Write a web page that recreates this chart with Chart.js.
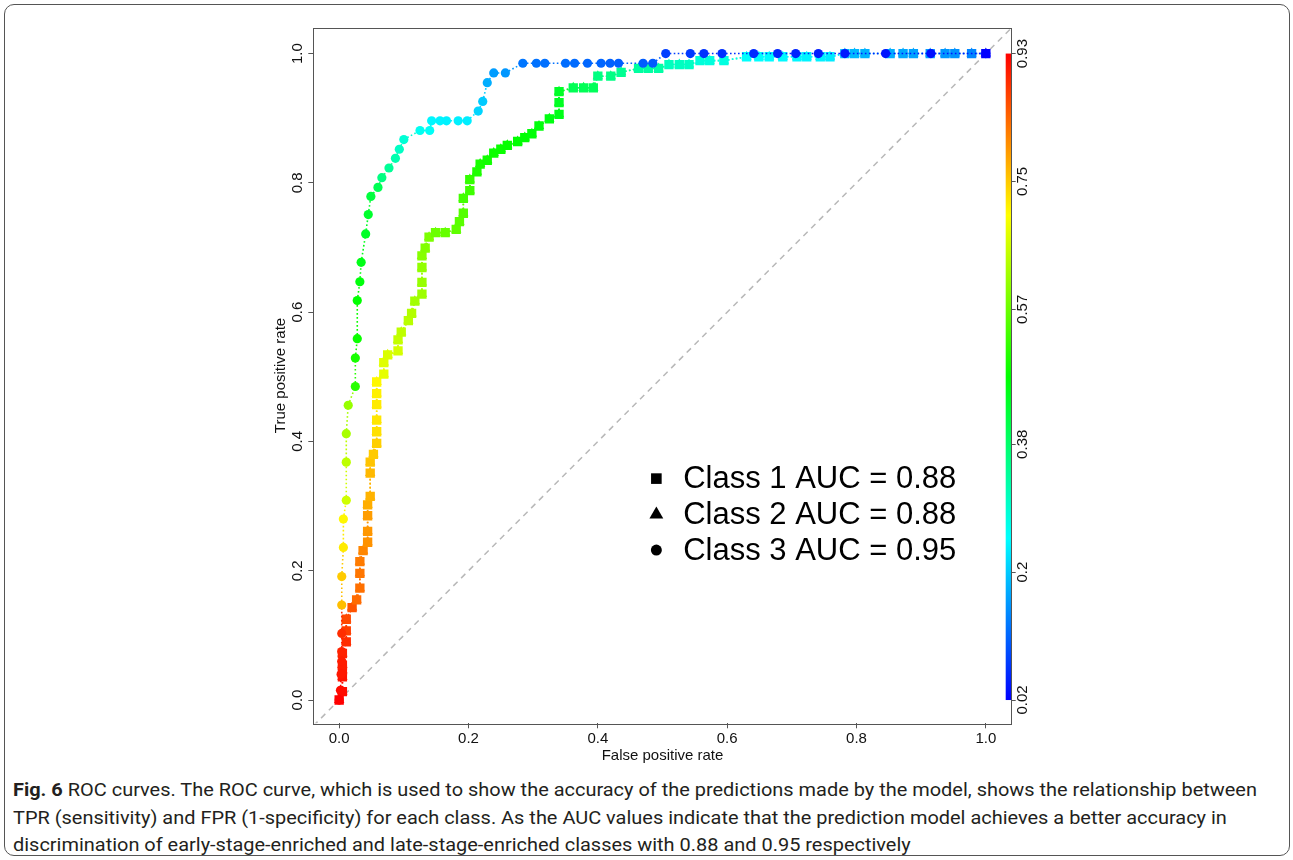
<!DOCTYPE html>
<html>
<head>
<meta charset="utf-8">
<title>Fig. 6 ROC curves</title>
<script src="https://cdn.jsdelivr.net/npm/chart.js@4.4.1/dist/chart.umd.min.js"></script>
<style>
  html, body { margin: 0; padding: 0; background: #fff; }
  body { width: 1293px; height: 860px; position: relative; overflow: hidden; }
  #frame { position: absolute; left: 4px; top: 4px; width: 1286px; height: 852px;
           border: 1px solid #555; border-radius: 10px; box-sizing: border-box; }
  #wrap { position: absolute; left: 240px; top: 10px; width: 820px; height: 760px; }
  #caption { position: absolute; left: 13px; top: 776px; color: #231f20;
             font-family: "Liberation Sans Narrow", "Roboto", sans-serif; font-size: 19px; line-height: 27.5px; }
  #caption .ln { width: max-content; white-space: nowrap; transform-origin: 0 0; }
</style>
</head>
<body>
<div id="frame"></div>
<div id="wrap"><canvas id="roc"></canvas></div>
<div id="caption">
  <div class="ln"><b>Fig. 6</b> ROC curves. The ROC curve, which is used to show the accuracy of the predictions made by the model, shows the relationship between</div>
  <div class="ln">TPR (sensitivity) and FPR (1-specificity) for each class. As the AUC values indicate that the prediction model achieves a better accuracy in</div>
  <div class="ln">discrimination of early-stage-enriched and late-stage-enriched classes with 0.88 and 0.95 respectively</div>
</div>
<script>
// ---- data ----
var xTicks = [0, 0.2, 0.4, 0.6, 0.8, 1.0];
var yTicks = [0, 0.2, 0.4, 0.6, 0.8, 1.0];
var cutoffTicks = [0.02, 0.2, 0.38, 0.57, 0.75, 0.93];   // colour key labels
var classLabels = ["Class 1 AUC = 0.88", "Class 2 AUC = 0.88", "Class 3 AUC = 0.95"];

// Class 1 (squares)
var fpr1 = [0.000, 0.005, 0.005, 0.005, 0.005, 0.005, 0.011, 0.011, 0.011, 0.020,
            0.027, 0.032, 0.032, 0.032, 0.037, 0.044, 0.044, 0.044, 0.044, 0.048,
            0.048, 0.048, 0.053, 0.058, 0.058, 0.058, 0.058, 0.058, 0.058, 0.069,
            0.069, 0.075, 0.091, 0.091, 0.096, 0.107, 0.112, 0.117, 0.128, 0.128,
            0.128, 0.128, 0.133, 0.139, 0.149, 0.164, 0.181, 0.186, 0.192, 0.192,
            0.202, 0.202, 0.213, 0.218, 0.229, 0.239, 0.250, 0.260, 0.276, 0.287,
            0.298, 0.309, 0.325, 0.340, 0.340, 0.340, 0.362, 0.378, 0.393, 0.400,
            0.420, 0.436, 0.463, 0.478, 0.494, 0.510, 0.526, 0.541, 0.558, 0.573,
            0.595, 0.630, 0.649, 0.665, 0.686, 0.708, 0.723, 0.744, 0.759, 0.782,
            0.797, 0.813, 0.852, 0.872, 0.888, 0.914, 0.937, 0.952, 0.978, 1.000];
var tpr1 = [0.000, 0.013, 0.036, 0.046, 0.054, 0.072, 0.090, 0.107, 0.125, 0.143,
            0.155, 0.173, 0.196, 0.214, 0.231, 0.244, 0.261, 0.285, 0.302, 0.315,
            0.351, 0.368, 0.380, 0.397, 0.415, 0.433, 0.457, 0.474, 0.492, 0.504,
            0.522, 0.534, 0.540, 0.557, 0.569, 0.587, 0.598, 0.617, 0.628, 0.646,
            0.669, 0.687, 0.699, 0.716, 0.723, 0.723, 0.728, 0.740, 0.753, 0.776,
            0.788, 0.805, 0.817, 0.829, 0.835, 0.846, 0.852, 0.858, 0.864, 0.870,
            0.876, 0.888, 0.899, 0.906, 0.924, 0.941, 0.947, 0.947, 0.947, 0.965,
            0.965, 0.971, 0.977, 0.977, 0.977, 0.983, 0.983, 0.983, 0.989, 0.989,
            0.989, 0.995, 0.995, 0.995, 0.995, 0.995, 0.995, 0.995, 0.995, 1.000,
            1.000, 1.000, 1.000, 1.000, 1.000, 1.000, 1.000, 1.000, 1.000, 1.000];
var cut1 = [0.93, 0.92, 0.915, 0.91, 0.905, 0.90, 0.89, 0.875, 0.865, 0.855,
            0.835, 0.83, 0.825, 0.82, 0.81, 0.80, 0.795, 0.79, 0.775, 0.77,
            0.765, 0.755, 0.75, 0.745, 0.73, 0.725, 0.72, 0.715, 0.71, 0.68,
            0.675, 0.67, 0.665, 0.65, 0.645, 0.64, 0.635, 0.62, 0.615, 0.61,
            0.605, 0.595, 0.59, 0.585, 0.57, 0.565, 0.56, 0.555, 0.55, 0.535,
            0.53, 0.52, 0.50, 0.495, 0.49, 0.485, 0.483, 0.48, 0.475, 0.472,
            0.468, 0.465, 0.46, 0.455, 0.445, 0.44, 0.40, 0.398, 0.395, 0.36,
            0.358, 0.345, 0.332, 0.33, 0.328, 0.305, 0.303, 0.30, 0.28, 0.278,
            0.275, 0.25, 0.248, 0.245, 0.242, 0.24, 0.238, 0.235, 0.23, 0.19,
            0.185, 0.18, 0.175, 0.17, 0.165, 0.16, 0.155, 0.15, 0.14, 0.02];

// Class 2 (triangles) has the same curve as class 1 and sits under its squares
var fpr2 = fpr1, tpr2 = tpr1, cut2 = cut1;

// Class 3 (circles)
var fpr3 = [0.000, 0.002, 0.003, 0.004, 0.004, 0.004, 0.004, 0.004, 0.0065, 0.0065,
            0.011, 0.011, 0.011, 0.014, 0.025, 0.025, 0.028, 0.028, 0.032, 0.034,
            0.041, 0.045, 0.049, 0.060, 0.066, 0.077, 0.087, 0.093, 0.100, 0.125,
            0.140, 0.143, 0.156, 0.166, 0.184, 0.198, 0.215, 0.222, 0.229, 0.239,
            0.257, 0.284, 0.305, 0.318, 0.350, 0.364, 0.384, 0.405, 0.419, 0.432,
            0.470, 0.485, 0.505, 0.543, 0.564, 0.592, 0.641, 0.678, 0.706, 0.741,
            0.782, 0.845, 0.915, 1.000];
var tpr3 = [0.000, 0.015, 0.040, 0.060, 0.075, 0.103, 0.147, 0.191, 0.236, 0.280,
            0.309, 0.368, 0.412, 0.456, 0.485, 0.529, 0.559, 0.618, 0.647, 0.677,
            0.721, 0.751, 0.779, 0.793, 0.808, 0.823, 0.838, 0.852, 0.867, 0.881,
            0.881, 0.896, 0.896, 0.896, 0.896, 0.896, 0.911, 0.926, 0.955, 0.970,
            0.970, 0.985, 0.985, 0.985, 0.985, 0.985, 0.985, 0.985, 0.985, 0.985,
            0.985, 0.985, 1.000, 1.000, 1.000, 1.000, 1.000, 1.000, 1.000, 1.000,
            1.000, 1.000, 1.000, 1.000];
var cut3 = [0.93, 0.92, 0.91, 0.905, 0.90, 0.89, 0.76, 0.75, 0.72, 0.71,
            0.66, 0.645, 0.625, 0.61, 0.51, 0.495, 0.485, 0.475, 0.465, 0.455,
            0.44, 0.435, 0.42, 0.40, 0.36, 0.34, 0.32, 0.30, 0.285, 0.26,
            0.255, 0.24, 0.238, 0.236, 0.234, 0.232, 0.21, 0.20, 0.175, 0.16,
            0.155, 0.125, 0.122, 0.12, 0.117, 0.115, 0.112, 0.11, 0.107, 0.105,
            0.102, 0.10, 0.075, 0.07, 0.066, 0.062, 0.058, 0.054, 0.05, 0.046,
            0.042, 0.038, 0.034, 0.02];

// ---- helpers ----
var xMin = -0.04, xMax = 1.04, yMin = -0.036, yMax = 1.04;
var cutLo = cutoffTicks[0], cutHi = cutoffTicks[cutoffTicks.length - 1];

// rainbow key: blue at the lowest cutoff, red at the highest
function cutColour(t) {
    var f = (t - cutLo) / (cutHi - cutLo);
    f = Math.max(0, Math.min(1, f));
    return "hsl(" + (240 * (1 - f)).toFixed(1) + ",100%,50%)";
}

function points(fx, ty) {
    return fx.map(function (v, i) { return { x: v, y: ty[i] }; });
}

function rocDataset(label, fx, ty, cut, style, radius, order) {
    var cols = cut.map(cutColour);
    return {
        label: label,
        data: points(fx, ty),
        showLine: true,
        borderWidth: 1.6,
        borderDash: [1.6, 2.4],
        borderColor: cols[0],
        segment: { borderColor: function (ctx) { return cols[ctx.p0DataIndex]; } },
        pointStyle: style,
        pointRadius: radius,
        pointBorderWidth: 0,
        pointBackgroundColor: cols,
        pointBorderColor: cols,
        tension: 0,
        order: order
    };
}

// colour key along the right edge of the plot, positioned by the cutoff axis
var colourKey = {
    id: "colourKey",
    afterDatasetsDraw: function (chart) {
        var s = chart.scales.yKey, a = chart.chartArea, c = chart.ctx;
        var yb = s.getPixelForValue(cutLo), yt = s.getPixelForValue(cutHi);
        var g = c.createLinearGradient(0, yb, 0, yt);
        for (var k = 0; k <= 12; k++) g.addColorStop(k / 12, "hsl(" + (240 * (1 - k / 12)) + ",100%,50%)");
        c.save();
        c.fillStyle = g;
        c.fillRect(a.right - 6, yt, 6, yb - yt);
        c.restore();
    }
};

// plot frame
var plotBox = {
    id: "plotBox",
    afterDraw: function (chart) {
        var a = chart.chartArea, c = chart.ctx;
        c.save();
        c.strokeStyle = "#555";
        c.lineWidth = 1;
        c.strokeRect(Math.round(a.left) + 0.5, Math.round(a.top) + 0.5,
                     Math.round(a.right - a.left), Math.round(a.bottom - a.top));
        c.restore();
    }
};

// legend placed inside the plot, anchored in data units
var innerLegend = {
    id: "innerLegend",
    afterDraw: function (chart, args, opts) {
        var c = chart.ctx, sx = chart.scales.x, sy = chart.scales.y;
        var styles = ["rect", "triangle", "circle"], radii = [7.5, 8, 5.5];
        c.save();
        c.font = "31px 'Liberation Sans', Arial, sans-serif";
        c.textBaseline = "middle";
        c.textAlign = "left";
        c.fillStyle = "#000";
        for (var i = 0; i < classLabels.length; i++) {
            var py = sy.getPixelForValue(opts.rows[i]);
            Chart.helpers.drawPoint(c, { pointStyle: styles[i], radius: radii[i], rotation: 0, borderWidth: 0 },
                                    sx.getPixelForValue(opts.markerX), py);
            c.fillText(classLabels[i], sx.getPixelForValue(opts.textX), py + 1);
        }
        c.restore();
    }
};

function fixSize(prop, v) { return function (scale) { scale[prop] = v; }; }
function setTicks(vals) { return function (scale) { scale.ticks = vals.map(function (v) { return { value: v }; }); }; }

Chart.defaults.font.family = "'Liberation Sans', Arial, sans-serif";
Chart.defaults.color = "#111";

new Chart(document.getElementById("roc"), {
    type: "scatter",
    data: {
        datasets: [
            rocDataset(classLabels[2], fpr3, tpr3, cut3, "circle", 4.6, 1),
            rocDataset(classLabels[0], fpr1, tpr1, cut1, "rect", 6.6, 2),
            rocDataset(classLabels[1], fpr2, tpr2, cut2, "triangle", 6, 3),
            {
                label: "chance",
                data: [{ x: xMin, y: xMin }, { x: xMax, y: xMax }],
                showLine: true,
                borderColor: "#b8b8b8",
                borderWidth: 1.5,
                borderDash: [6, 5],
                pointRadius: 0,
                order: 10
            }
        ]
    },
    options: {
        responsive: true,
        maintainAspectRatio: false,
        animation: false,
        events: [],
        layout: { padding: { top: 17.7, left: 0, right: 0, bottom: 0 } },
        plugins: {
            legend: { display: false },
            tooltip: { enabled: false },
            innerLegend: { markerX: 0.4905, textX: 0.532, rows: [0.3425, 0.2868, 0.232] }
        },
        scales: {
            x: {
                type: "linear", position: "bottom", min: xMin, max: xMax,
                afterBuildTicks: setTicks(xTicks),
                afterFit: fixSize("height", 46.7),
                border: { display: false },
                grid: { drawOnChartArea: false, tickLength: 5, color: "#555" },
                ticks: { font: { size: 15 }, padding: 2, autoSkip: false, maxRotation: 0,
                         callback: function (v) { return v.toFixed(1); } },
                title: { display: true, text: "False positive rate", font: { size: 15 }, color: "#111",
                         padding: { top: 0, bottom: 5 } }
            },
            y: {
                type: "linear", position: "left", min: yMin, max: yMax,
                afterBuildTicks: setTicks(yTicks),
                afterFit: fixSize("width", 73.3),
                border: { display: false },
                grid: { drawOnChartArea: false, tickLength: 5, color: "#555" },
                ticks: { font: { size: 15 }, padding: 0, autoSkip: false, minRotation: 90, maxRotation: 90,
                         crossAlign: "center", callback: function (v) { return v.toFixed(1); } },
                title: { display: true, text: "True positive rate", font: { size: 15 }, color: "#111",
                         padding: { top: 32, bottom: 0 } }
            },
            yKey: {
                type: "linear", position: "right",
                min: cutLo + yMin * (cutHi - cutLo), max: cutLo + yMax * (cutHi - cutLo),
                afterBuildTicks: setTicks(cutoffTicks),
                afterFit: fixSize("width", 48.3),
                border: { display: false },
                grid: { drawOnChartArea: false, tickLength: 4, color: "#555" },
                ticks: { font: { size: 15 }, padding: -7, autoSkip: false, minRotation: 90, maxRotation: 90,
                         crossAlign: "center", callback: function (v) { return String(v); } }
            }
        }
    },
    plugins: [colourKey, plotBox, innerLegend]
});

// squeeze the caption to the column width of the original
(function () {
    var lines = document.querySelectorAll("#caption .ln");
    var k = 1244 / lines[0].getBoundingClientRect().width;
    lines.forEach(function (el) { el.style.transform = "scaleX(" + k.toFixed(4) + ")"; });
})();
</script>
</body>
</html>
